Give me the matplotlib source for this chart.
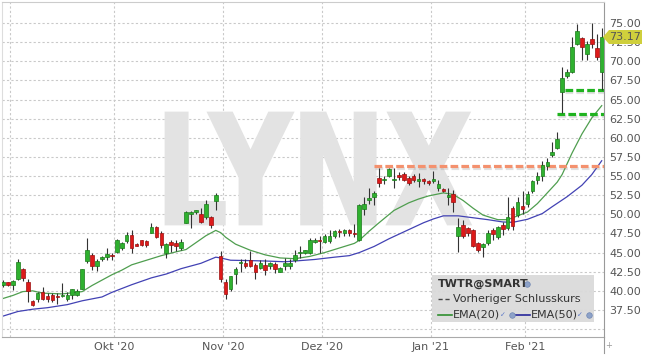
import matplotlib
matplotlib.use("Agg")
import matplotlib.pyplot as plt
import matplotlib.patheffects as pe
import matplotlib.transforms as mtransforms
from matplotlib.textpath import TextPath
from matplotlib.font_manager import FontProperties
from matplotlib.patches import PathPatch, Polygon, Rectangle
from matplotlib.lines import Line2D
import numpy as np

# daily candles, one per trading day (28 Aug 2020 .. 23 Feb 2021)
opens = [40.7, 41.1, 40.7, 41.6, 42.9, 41.2, 38.7, 38.9, 39.8, 39.3,
         39.5, 39.3, 39.35, 39.0, 39.4, 39.5, 40.3, 43.9, 44.7, 43.2,
         44.2, 44.4, 44.7, 45.1, 45.6, 46.5, 47.3, 46.1, 46.6, 46.5,
         47.6, 48.4, 47.6, 45.0, 46.4, 46.2, 45.6, 48.9, 50.1, 50.3,
         50.1, 49.7, 49.7, 51.8, 44.6, 41.2, 40.2, 42.2, 43.7, 43.6,
         44.0, 43.4, 43.0, 43.4, 43.3, 43.5, 42.5, 43.2, 43.2, 44.0,
         44.9, 45.0, 44.9, 46.4, 46.7, 46.4, 46.5, 47.2, 47.8, 47.5,
         47.9, 47.5, 46.6, 50.7, 51.9, 52.2, 54.8, 54.5, 55.0, 54.5,
         55.1, 55.3, 54.7, 55.0, 54.4, 54.6, 54.3, 54.4, 53.4, 53.3,
         52.2, 52.7, 47.2, 48.6, 48.2, 48.0, 46.2, 45.7, 46.3, 48.0,
         47.0, 48.6, 48.2, 50.8, 49.9, 51.1, 51.35, 53.1, 54.5, 55.0,
         56.3, 57.7, 58.6, 66.0, 68.1, 68.6, 72.3, 73.0, 71.0, 72.9,
         71.7, 68.55]
highs = [41.4, 41.2, 41.4, 44.2, 43.0, 41.5, 38.8, 39.9, 40.5, 39.7,
         39.7, 39.7, 41.0, 39.8, 40.3, 40.2, 42.9, 46.9, 45.0, 44.2,
         44.6, 45.6, 45.0, 46.8, 46.4, 47.7, 47.9, 46.2, 46.7, 46.6,
         48.8, 48.5, 47.8, 46.2, 46.6, 46.6, 46.8, 50.4, 50.4, 50.6,
         50.8, 51.9, 49.8, 52.8, 45.2, 41.6, 42.0, 43.1, 44.1, 44.1,
         45.2, 43.6, 44.0, 44.1, 43.8, 43.8, 43.1, 44.3, 44.2, 45.4,
         45.8, 45.4, 46.9, 46.9, 47.2, 47.4, 48.0, 47.9, 48.1, 48.1,
         48.1, 48.7, 51.4, 52.3, 53.4, 53.0, 56.0, 55.0, 56.0, 56.0,
         55.5, 55.5, 55.0, 55.3, 55.4, 54.7, 54.5, 55.6, 54.5, 53.4,
         53.4, 53.2, 49.5, 49.3, 48.4, 48.1, 46.4, 46.2, 47.9, 48.2,
         48.5, 49.0, 52.2, 51.1, 52.2, 53.0, 53.0, 54.5, 55.5, 57.0,
         57.4, 59.5, 60.8, 69.3, 69.0, 73.2, 74.9, 73.2, 72.6, 75.0,
         73.6, 74.3]
lows = [40.5, 40.6, 40.1, 41.4, 41.3, 38.6, 38.0, 38.5, 38.8, 38.5,
        38.6, 38.3, 39.2, 38.7, 38.9, 39.3, 40.2, 43.6, 42.7, 42.6,
        43.9, 44.0, 44.0, 45.0, 45.3, 46.2, 45.0, 45.8, 45.9, 45.7,
        47.5, 46.9, 45.6, 44.3, 45.1, 45.2, 45.4, 48.8, 48.2, 50.0,
        48.8, 49.4, 48.2, 50.6, 41.2, 38.9, 40.0, 40.9, 42.5, 43.0,
        43.1, 41.6, 42.9, 42.1, 42.9, 42.3, 42.4, 42.7, 42.9, 43.8,
        44.3, 44.8, 44.8, 46.2, 44.9, 46.2, 46.2, 46.9, 47.0, 47.2,
        47.2, 47.1, 46.5, 49.9, 51.4, 51.2, 53.6, 54.0, 54.9, 53.5,
        54.5, 54.3, 53.8, 54.2, 53.6, 54.0, 53.8, 54.05, 53.0, 52.9,
        51.2, 50.3, 45.1, 46.9, 47.2, 45.7, 45.1, 44.4, 46.0, 46.7,
        46.8, 47.3, 48.0, 48.0, 49.7, 50.1, 50.9, 52.8, 53.9, 54.4,
        55.8, 57.5, 58.5, 63.2, 67.8, 68.4, 72.1, 70.2, 70.2, 71.7,
        70.2, 66.2]
closes = [41.2, 40.8, 41.3, 43.8, 41.7, 40.0, 38.2, 39.7, 39.0, 39.0,
          38.8, 39.2, 39.45, 39.5, 40.2, 40.0, 42.8, 45.3, 43.2, 43.9,
          44.4, 44.8, 44.5, 46.7, 46.2, 47.3, 45.6, 45.9, 46.0, 46.0,
          48.3, 47.1, 46.0, 46.1, 46.0, 45.9, 46.4, 50.3, 50.3, 50.5,
          49.0, 51.4, 48.6, 52.5, 41.5, 39.6, 41.9, 42.8, 43.8, 43.2,
          43.2, 42.5, 43.7, 42.7, 43.6, 42.8, 43.0, 43.6, 43.7, 44.7,
          45.1, 45.3, 46.6, 46.6, 46.55, 47.2, 47.2, 47.8, 47.65, 48.0,
          47.5, 47.4, 51.2, 51.4, 52.1, 52.8, 54.05, 54.6, 55.9, 54.6,
          54.9, 54.5, 54.05, 54.5, 54.6, 54.4, 54.05, 54.6, 54.0, 53.1,
          52.5, 51.6, 48.3, 47.2, 47.5, 45.8, 45.4, 46.1, 47.6, 47.4,
          48.3, 48.1, 49.7, 48.5, 51.65, 50.7, 52.7, 54.3, 55.0, 56.5,
          56.9, 58.2, 59.9, 67.8, 68.6, 71.9, 73.9, 71.8, 72.3, 72.3,
          70.5, 73.17]

ema20_days = [0, 2, 4, 6, 8, 12, 16, 18, 20, 22, 24, 26, 29, 32, 35, 37,
              39, 41, 43, 44, 45, 47, 50, 53, 56, 59, 62, 65, 68, 71, 72,
              73, 74, 76, 79, 82, 84, 86, 89, 91, 93, 95, 97, 100, 102,
              104, 106, 108, 110, 112, 113, 115, 117, 119, 121]
ema20_vals = [39.0, 39.4, 39.9, 40.0, 39.7, 39.6, 39.9, 40.7, 41.4, 42.1,
              42.7, 43.4, 44.0, 44.6, 45.1, 45.4, 46.3, 47.2, 47.9, 47.6,
              47.0, 46.1, 45.3, 44.7, 44.3, 44.2, 44.5, 45.0, 45.6, 46.2,
              46.6, 47.2, 47.8, 48.9, 50.5, 51.5, 52.0, 52.4, 52.8, 52.6,
              51.8, 50.8, 49.9, 49.3, 49.3, 49.8, 50.3, 51.4, 52.8, 54.2,
              55.2, 58.0, 60.5, 62.6, 64.2]

ema50_days = [0, 3, 6, 9, 13, 16, 20, 22, 26, 30, 33, 36, 40, 43, 44, 46,
              50, 53, 57, 60, 63, 67, 70, 72, 75, 78, 80, 83, 85, 87, 89,
              92, 95, 98, 101, 103, 106, 109, 111, 114, 117, 119, 121]
ema50_vals = [36.7, 37.3, 37.6, 37.8, 38.2, 38.7, 39.2, 39.8, 40.8, 41.7,
              42.2, 42.9, 43.6, 44.4, 44.3, 44.0, 43.95, 43.9, 43.8, 43.95,
              44.1, 44.4, 44.6, 45.0, 45.8, 46.8, 47.4, 48.3, 48.9, 49.4,
              49.8, 49.8, 49.55, 49.3, 49.0, 48.95, 49.35, 50.1, 51.0, 52.3,
              53.8, 55.2, 57.0]

month_starts = [2, 23, 45, 65, 87, 106]
month_labels = ["", "Okt '20", "Nov '20", "Dez '20", "Jan '21", "Feb '21"]

levels = [56.3, 66.25, 63.1]
level_from = [75, 113.5, 112]
level_colors = ["#f4916e", "#1fb31f", "#1fb31f"]

last_close = 73.17
symbol = "TWTR@SMART"

W, H = 645, 358


def fx(x):
    return x / W


def fy(y):
    return 1 - y / H


fig = plt.figure(figsize=(W / 100, H / 100), dpi=100)
ax = fig.add_axes([fx(2), fy(337), fx(602), 335 / H])
ax.set_xlim(-0.2, 121.46)
ax.set_ylim(33.97, 77.74)

# grid
for v in np.arange(35, 75.01, 2.5):
    ax.axhline(v, color="#c9c9c9", lw=0.8, ls=(0, (2, 2)), zorder=1)
for m in month_starts:
    ax.axvline(m - 0.5, color="#c9c9c9", lw=0.8, ls=(0, (2, 2)), zorder=1)

# LYNX watermark
tp = TextPath((0, 0), "LYNX", size=1, prop=FontProperties(family="DejaVu Sans", weight="bold"))
bb = tp.get_extents()
wm = (mtransforms.Affine2D().translate(-bb.x0, -bb.y0)
      .scale((470 - 166) / bb.width, (224 - 113) / bb.height)
      .translate(166, H - 224).scale(1 / W, 1 / H) + fig.transFigure)
ax.add_patch(PathPatch(tp, transform=wm, facecolor="#e3e3e3", edgecolor="#e3e3e3",
                       lw=2, zorder=1.5))

# moving averages
ax.plot(ema20_days, ema20_vals, color="#4f9e4f", lw=0.9, zorder=2)
ax.plot(ema50_days, ema50_vals, color="#4242b4", lw=0.9, zorder=2)

# support / resistance levels
for lvl, start, col in zip(levels, level_from, level_colors):
    ax.hlines(lvl, start, 121.5, color=col, lw=2.3, linestyles=(0, (2.4, 1.0)), zorder=2.5,
              path_effects=[pe.SimpleLineShadow(offset=(0.3, -1.2), alpha=0.25, shadow_color="#888888"),
                            pe.Normal()])

# candles
o = np.array(opens)
c = np.array(closes)
x = np.arange(len(o))
up = c >= o
face = np.where(up, "#2fb12f", "#dd1a1a")
edge = np.where(up, "#1a7a1a", "#9a1010")
ax.vlines(x, lows, highs, color="#333333", lw=0.8, zorder=3)
ax.bar(x, np.maximum(np.abs(c - o), 0.12), bottom=np.minimum(o, c), width=0.72,
       color=face, edgecolor=edge, lw=0.5, zorder=4)

# axes styling
ax.yaxis.tick_right()
ax.set_yticks(np.arange(37.5, 75.01, 2.5))
ax.set_yticklabels([f"{v:.2f}" for v in np.arange(37.5, 75.01, 2.5)])
ax.set_xticks([m - 0.5 for m in month_starts])
ax.set_xticklabels(month_labels)
ax.tick_params(axis="y", length=0, pad=3.8, labelsize=8, labelcolor="#555555")
ax.tick_params(axis="x", length=0, pad=3.5, labelsize=8, labelcolor="#555555")
ax.spines["top"].set_color("#cccccc")
ax.spines["left"].set_color("#dddddd")
ax.spines["bottom"].set_color("#aaaaaa")
ax.spines["right"].set_color("#999999")
for s in ax.spines.values():
    s.set_linewidth(0.8)

fig.add_artist(Line2D([fx(604), fx(604)], [fy(337), fy(353)], color="#999999", lw=0.8,
                      transform=fig.transFigure))
fig.text(fx(609), fy(346), "+", fontsize=6, color="#999999", ha="center", va="center")

# last price tag
tag = Polygon([(fx(603), fy(37)), (fx(609), fy(30)), (fx(642), fy(30)),
               (fx(642), fy(44)), (fx(609), fy(44))], closed=True,
              transform=fig.transFigure, facecolor="#cfcf3c", edgecolor="none", zorder=5)
fig.add_artist(tag)
fig.text(fx(625.5), fy(37), f"{last_close:.2f}", fontsize=8, color="#555555",
         ha="center", va="center", zorder=6)

# legend box
fig.add_artist(Rectangle((fx(432), fy(322)), fx(162), 47 / H, transform=fig.transFigure,
                         facecolor="#dadada", edgecolor="none", alpha=0.95, zorder=3))
fig.text(fx(438), fy(284), symbol, fontsize=8, fontweight="bold", color="#333333",
         va="center", zorder=4)
fig.add_artist(Line2D([fx(438), fx(451)], [fy(298.5), fy(298.5)], color="#444444", lw=1,
                      ls=(0, (3, 2)), transform=fig.transFigure, zorder=4))
fig.text(fx(453), fy(298.5), "Vorheriger Schlusskurs", fontsize=8, color="#333333",
         va="center", zorder=4)
fig.add_artist(Line2D([fx(438), fx(452)], [fy(314.5), fy(314.5)], color="#2f8f2f", lw=1.2,
                      transform=fig.transFigure, zorder=4))
fig.text(fx(453), fy(314.5), "EMA(20)", fontsize=8, color="#333333", va="center", zorder=4)
fig.add_artist(Line2D([fx(515), fx(530)], [fy(314.5), fy(314.5)], color="#26269a", lw=1.2,
                      transform=fig.transFigure, zorder=4))
fig.text(fx(531), fy(314.5), "EMA(50)", fontsize=8, color="#333333", va="center", zorder=4)
for cx in [503, 580]:
    fig.text(fx(cx), fy(315), "\u2713", fontsize=5, color="#5a78c8", ha="center",
             va="center", zorder=4)
for gx, gy in [(527, 284), (512, 314.5), (589, 314.5)]:
    fig.add_artist(Line2D([fx(gx)], [fy(gy)], marker="o", ms=4, color="#8da2c8",
                          markeredgecolor="#6f86b3", mew=0.5, transform=fig.transFigure, zorder=4))
fig.add_artist(Line2D([fx(578)], [fy(298.5)], marker="s", ms=3.5, markerfacecolor="white",
                      markeredgecolor="#cccccc", mew=0.5, transform=fig.transFigure, zorder=4))

fig.savefig("out.png", dpi=100)
